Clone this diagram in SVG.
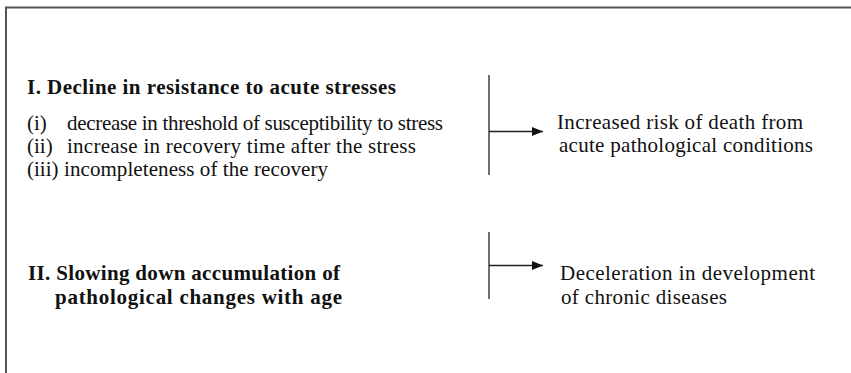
<svg xmlns="http://www.w3.org/2000/svg" width="851" height="373" viewBox="0 0 851 373">
<style>
text{font-family:"Liberation Serif","Times New Roman",serif;fill:#111;font-size:21px}
.b{font-weight:bold}
.ln{stroke:#222;stroke-width:1.3;fill:none}
.frame{stroke:#555;stroke-width:2;fill:none}
</style>
<defs>
<marker id="ah" markerWidth="11" markerHeight="9" refX="11" refY="4.5" orient="auto" markerUnits="userSpaceOnUse">
<path d="M0,0 L11,4.5 L0,9 Z" fill="#111"/>
</marker>
</defs>
<rect width="851" height="373" fill="#fff"/>
<path class="frame" d="M6,380 V7.5 H860"/>
<g id="node-stress">
<text class="b" x="27" y="94" textLength="369" lengthAdjust="spacing">I. Decline in resistance to acute  stresses</text>
<text x="27" y="130">(i)</text>
<text x="67" y="130" textLength="376" lengthAdjust="spacing">decrease in threshold of susceptibility to stress</text>
<text x="27" y="153">(ii)</text>
<text x="67" y="153" textLength="349" lengthAdjust="spacing">increase in recovery time after the stress</text>
<text x="27" y="176">(iii)</text>
<text x="64" y="176" textLength="264" lengthAdjust="spacing">incompleteness of the recovery</text>
</g>
<g id="node-death">
<text x="557" y="129" textLength="246" lengthAdjust="spacing">Increased risk of death from</text>
<text x="559" y="152" textLength="254" lengthAdjust="spacing">acute pathological conditions</text>
</g>
<g id="node-slow">
<text class="b" x="28" y="280" textLength="312" lengthAdjust="spacing">II. Slowing down accumulation of</text>
<text class="b" x="55" y="304" textLength="287" lengthAdjust="spacing">pathological  changes  with age</text>
</g>
<g id="node-chronic">
<text x="560" y="280" textLength="255" lengthAdjust="spacing">Deceleration  in development</text>
<text x="561" y="304" textLength="166" lengthAdjust="spacing">of chronic diseases</text>
</g>
<g id="connectors">
<line class="ln" x1="489" y1="75" x2="489" y2="175"/>
<line class="ln" x1="489" y1="131.5" x2="543" y2="131.5" marker-end="url(#ah)"/>
<line class="ln" x1="489" y1="232" x2="489" y2="299"/>
<line class="ln" x1="489" y1="265.5" x2="543" y2="265.5" marker-end="url(#ah)"/>
</g>
</svg>
